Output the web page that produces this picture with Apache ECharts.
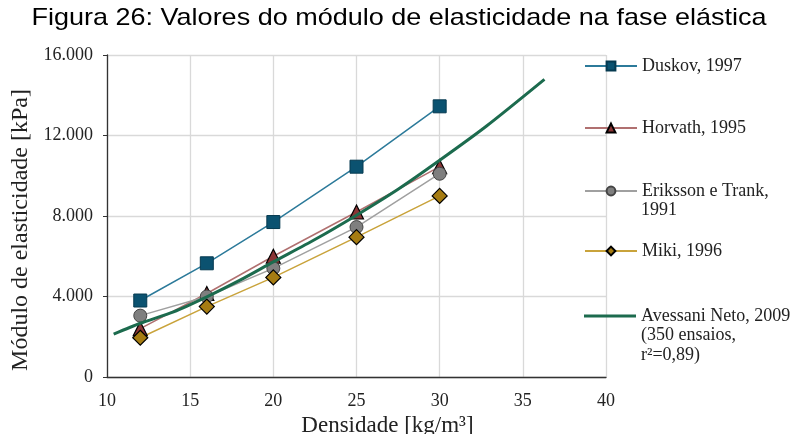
<!DOCTYPE html>
<html>
<head>
<meta charset="utf-8">
<script src="https://cdn.jsdelivr.net/npm/echarts@6/dist/echarts.min.js"></script>
<style>html,body{margin:0;padding:0;background:#fff}#c{width:796px;height:434px}</style>
</head>
<body>
<div id="c"></div>
<script>
var titleText = 'Figura 26: Valores do módulo de elasticidade na fase elástica';
var xName = 'Densidade [kg/m³]';
var yName = 'Módulo de elasticidade [kPa]';
var xTicks = [10, 15, 20, 25, 30, 35, 40];
var yTickLabels = {0: '0', 4000: '4.000', 8000: '8.000', 12000: '12.000', 16000: '16.000'};

var densities = [12, 16, 20, 25, 30];
var duskov = [3800, 5650, 7700, 10450, 13450];
var horvath = [2400, 4150, 6000, 8200, 10450];
var eriksson = [3050, 4000, 5400, 7450, 10100];
var miki = [1950, 3500, 4950, 6950, 9000];
var avessaniX = [10.4, 12, 14, 16, 18, 20, 22.5, 25, 27.5, 30, 32.8, 36.3];
var avessaniY = [2130, 2670, 3240, 3985, 4810, 5720, 6830, 8040, 9330, 10770, 12460, 14790];

var names = ['Duskov, 1997', 'Horvath, 1995', 'Eriksson e Trank, 1991', 'Miki, 1996', 'Avessani Neto, 2009 (350 ensaios, r²=0,89)'];
var firstLines = ['Duskov, 1997', 'Horvath, 1995', 'Eriksson e Trank,', 'Miki, 1996', 'Avessani Neto, 2009'];
var extraLines = [[], [], ['1991'], [], ['(350 ensaios,', 'r²=0,89)']];

function pairs(xs, ys) { return xs.map(function (x, i) { return [x, ys[i]]; }); }

var serif = '"Liberation Serif", "Times New Roman", serif';
var sans = '"Liberation Sans", Arial, sans-serif';
var legendY = [66, 128, 191, 251, 316];

var legends = names.map(function (n, i) {
  var item = (i === 4) ? { name: n, icon: 'rect' } : n;
  return {
    data: [item], left: 584, top: legendY[i] - 10, padding: 0,
    itemWidth: 52, itemHeight: (i === 4) ? 3 : 11,
    formatter: function () { return firstLines[i]; },
    textStyle: { fontFamily: serif, fontSize: 18, color: '#222', lineHeight: 20 },
    selectedMode: false
  };
});

var graphics = [{
  type: 'text', x: 399, y: 6, scaleX: 1.125,
  style: { text: titleText, font: '24px ' + sans, fill: '#000', textAlign: 'center', textVerticalAlign: 'top' }
}];
extraLines.forEach(function (lines, i) {
  lines.forEach(function (t, j) {
    graphics.push({
      type: 'text', left: 641, top: legendY[i] - 10 + 20 * (j + 1),
      style: { text: t, font: '18px ' + serif, fill: '#222' }
    });
  });
});

var chart = echarts.init(document.getElementById('c'));
chart.setOption({
  animation: false,
  legend: legends,
  graphic: graphics,
  grid: { left: 107, right: 190, top: 55, bottom: 57, containLabel: false, outerBoundsMode: 'none' },
  xAxis: {
    type: 'value', min: xTicks[0], max: xTicks[xTicks.length - 1], interval: 5,
    name: xName, nameLocation: 'middle', nameGap: 28,
    nameTextStyle: { fontFamily: serif, fontSize: 23, color: '#222', padding: [0, 0, 0, 62] },
    axisLine: { lineStyle: { color: '#333', width: 1.3 } },
    axisTick: { show: false },
    axisLabel: { fontFamily: serif, fontSize: 18, color: '#222', margin: 15 },
    splitLine: { show: true, lineStyle: { color: '#d9d9d9', width: 1.3 } }
  },
  yAxis: {
    type: 'value', min: 0, max: 16000, interval: 4000,
    name: yName, nameLocation: 'middle', nameGap: 73,
    nameTextStyle: { fontFamily: serif, fontSize: 24, color: '#222', padding: [0, 28, 0, 0] },
    axisLine: { show: true, lineStyle: { color: '#333', width: 1.3 } },
    axisTick: { show: true, length: 4, lineStyle: { color: '#333' } },
    axisLabel: { fontFamily: serif, fontSize: 18, color: '#222', margin: 14,
      formatter: function (v) { return yTickLabels[v] !== undefined ? yTickLabels[v] : ''; } },
    splitLine: { show: true, lineStyle: { color: '#d9d9d9', width: 1.3 } }
  },
  series: [
    { name: names[0], type: 'line', data: pairs(densities, duskov), symbol: 'rect', symbolSize: 13,
      lineStyle: { color: '#2c7a9a', width: 1.5 }, itemStyle: { color: '#0b5270', borderColor: '#063a50', borderWidth: 1 }, z: 3 },
    { name: names[1], type: 'line', data: pairs(densities, horvath), symbol: 'triangle', symbolSize: 14,
      lineStyle: { color: '#b07070', width: 1.5 }, itemStyle: { color: '#8a3535', borderColor: '#000', borderWidth: 1.2 }, z: 3 },
    { name: names[2], type: 'line', data: pairs(densities, eriksson), symbol: 'circle', symbolSize: 13,
      lineStyle: { color: '#a0a0a0', width: 1.5 }, itemStyle: { color: '#7f7f7f', borderColor: '#444', borderWidth: 1 }, z: 3 },
    { name: names[3], type: 'line', data: pairs(densities, miki), symbol: 'diamond', symbolSize: 15,
      lineStyle: { color: '#c9a33b', width: 1.5 }, itemStyle: { color: '#a67c12', borderColor: '#000', borderWidth: 1.2 }, z: 3 },
    { name: names[4], type: 'line', data: pairs(avessaniX, avessaniY), symbol: 'none', smooth: 0.25,
      lineStyle: { color: '#1c6b4e', width: 3 }, itemStyle: { color: '#1c6b4e' }, z: 5 }
  ]
});
</script>
</body>
</html>
